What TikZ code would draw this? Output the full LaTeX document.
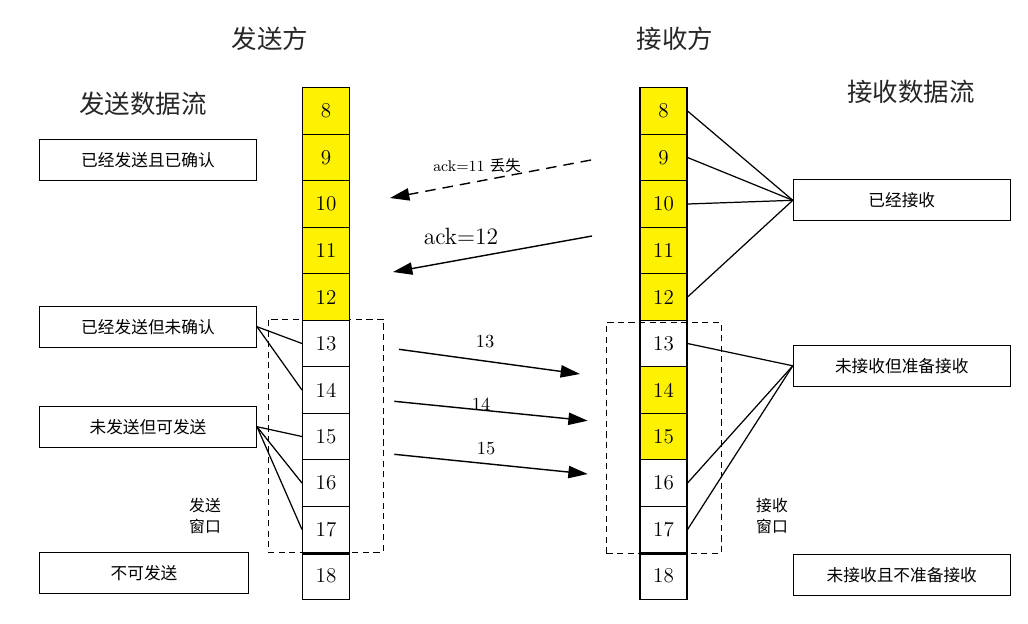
\documentclass[tikz,border=0pt]{standalone}
\usepackage{fontspec}
\newfontfamily\cjk{Noto Sans CJK SC}
\usetikzlibrary{arrows.meta, positioning}

\begin{document}
\begin{tikzpicture}[x=0.02cm, y=-0.02cm,
  line width=0.6pt,
  cell/.style={draw, minimum width=0.94cm, minimum height=0.93cm, inner sep=0pt,
               font=\fontsize{12}{13}\selectfont},
  acked/.style={cell, fill=yellow},
  stream/.style={draw, minimum width=4.34cm, minimum height=0.82cm, inner sep=0pt,
                 font=\cjk\fontsize{9.5}{11}\selectfont},
  title/.style={font=\cjk\fontsize{14.5}{16}\selectfont, text=black!85},
  window/.style={draw, dash pattern=on 3.5pt off 2.5pt, line width=0.5pt},
  winlabel/.style={font=\cjk\fontsize{9}{12}\selectfont, align=left},
  link/.style={line width=0.7pt},
  packet/.style={-{Triangle[length=11pt, width=7pt]}, line width=0.8pt},
  seqlabel/.style={font=\fontsize{10.5}{12}\selectfont}
]
  \useasboundingbox (0,0) rectangle (1028,623);

  % titles
  \node[title] (sender) at (270, 39) {发送方};
  \node[title] (receiver) at (675, 39) {接收方};
  \node[title] (sndflow) at (143, 104) {发送数据流};
  \node[title] (rcvflow) at (911, 92) {接收数据流};

  % windows
  \node[window, minimum width=2.3cm, minimum height=4.66cm] (sndwin) at (325.5, 435.5) {};
  \node[window, minimum width=2.3cm, minimum height=4.61cm] (rcvwin) at (663.9, 437.8) {};
  \node[winlabel] (sndwinlabel) at (205, 516) {发送\\窗口};
  \node[winlabel] (rcvwinlabel) at (772, 516) {接收\\窗口};

  % sequence cells
  \foreach \n/\s in {8/acked, 9/acked, 10/acked, 11/acked, 12/acked, 13/cell,
                     14/cell, 15/cell, 16/cell, 17/cell, 18/cell}
    \node[\s] (snd\n) at (326, {111+46.5*(\n-8)}) {\n};
  \foreach \n/\s in {8/acked, 9/acked, 10/acked, 11/acked, 12/acked, 13/cell,
                     14/acked, 15/acked, 16/cell, 17/cell, 18/cell}
    \node[\s] (rcv\n) at (663.5, {111+46.5*(\n-8)}) {\n};
  \draw[line width=1.4pt] (snd17.south west) -- (snd17.south east);
  \draw[line width=1.4pt] (rcv17.south west) -- (rcv17.south east);

  % sender stream boxes
  \node[stream] (doneS) at (148, 160) {已经发送且已确认};
  \node[stream] (sentS) at (148, 326.7) {已经发送但未确认};
  \node[stream] (canS) at (148, 426.7) {未发送但可发送};
  \node[stream, minimum width=4.18cm] (noS) at (144, 573) {不可发送};

  % receiver stream boxes
  \node[stream] (doneR) at (901.8, 200.3) {已经接收};
  \node[stream] (readyR) at (901.8, 365.8) {未接收但准备接收};
  \node[stream] (noR) at (901.8, 574.8) {未接收且不准备接收};

  \foreach \n in {13, 14}
    \draw[link] (sentS.east) -- (snd\n.west);
  \foreach \n in {15, 16, 17}
    \draw[link] (canS.east) -- (snd\n.west);
  \foreach \n in {8, 9, 10, 12}
    \draw[link] (doneR.west) -- (rcv\n.east);
  \foreach \n in {13, 16, 17}
    \draw[link] (readyR.west) -- (rcv\n.east);

  % acks
  \coordinate (ack11from) at (591, 160);
  \coordinate (ack11to) at (390, 198);
  \coordinate (ack12from) at (592, 236);
  \coordinate (ack12to) at (393, 272);
  \draw[packet, dash pattern=on 6pt off 4pt] (ack11from) -- (ack11to);
  \node[font=\fontsize{8.8}{10}\selectfont] (ack11) at (477, 166) {ack=11 {\cjk 丢失}};
  \draw[packet] (ack12from) -- (ack12to);
  \node[font=\fontsize{13.4}{15}\selectfont] (ack12) at (461, 236) {ack=12};

  % data segments
  \coordinate (seg13from) at (399, 349.3);
  \coordinate (seg13to) at (580, 374);
  \coordinate (seg14from) at (394.3, 401.3);
  \coordinate (seg14to) at (587.7, 420.7);
  \coordinate (seg15from) at (394.3, 454.3);
  \coordinate (seg15to) at (587.7, 474);
  \draw[packet] (seg13from) -- (seg13to);
  \draw[packet] (seg14from) -- (seg14to);
  \draw[packet] (seg15from) -- (seg15to);
  \node[seqlabel] (seg13) at (485, 342) {13};
  \node[seqlabel] (seg14) at (481, 404) {14};
  \node[seqlabel] (seg15) at (486, 448.3) {15};
\end{tikzpicture}
\end{document}
